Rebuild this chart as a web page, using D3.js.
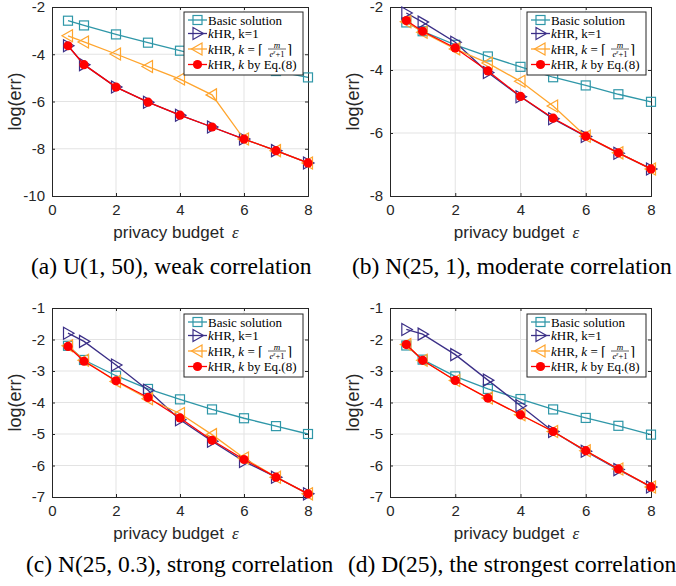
<!DOCTYPE html>
<html>
<head>
<meta charset="utf-8">
<script src="https://cdn.jsdelivr.net/npm/d3@7"></script>
<style>
  body { margin: 0; background: #fff; }
  svg { display: block; }
</style>
</head>
<body>
<svg id="screen" width="676" height="586"></svg>
<script>
// x values shared by every panel
var epsilons = [0.5, 1, 2, 3, 4, 5, 6, 7, 8];
var xTicks = [0, 2, 4, 6, 8];

// (a) U(1,50)
var basicA = [-2.58, -2.78, -3.16, -3.51, -3.85, -4.2, -4.47, -4.71, -4.98];
var k1A    = [-3.64, -4.44, -5.39, -6.03, -6.58, -7.08, -7.59, -8.08, -8.6];
var kCeilA = [-3.22, -3.48, -3.99, -4.52, -5.05, -5.72, -7.59, -8.08, -8.6];
var kEqA   = [-3.64, -4.44, -5.39, -6.03, -6.58, -7.08, -7.59, -8.08, -8.6];

// (b) N(25,1)
var basicB = [-2.49, -2.77, -3.2, -3.57, -3.9, -4.23, -4.49, -4.77, -5.01];
var k1B    = [-2.19, -2.48, -3.12, -4.08, -4.85, -5.55, -6.11, -6.64, -7.14];
var kCeilB = [-2.47, -2.8, -3.33, -3.78, -4.36, -5.14, -6.1, -6.63, -7.14];
var kEqB   = [-2.43, -2.77, -3.3, -4.03, -4.84, -5.53, -6.1, -6.63, -7.14];

// (c) N(25,0.3)
var basicC = [-2.2, -2.65, -3.15, -3.57, -3.9, -4.22, -4.5, -4.75, -5.0];
var k1C    = [-1.8, -2.06, -2.81, -3.61, -4.55, -5.23, -5.87, -6.37, -6.9];
var kCeilC = [-2.2, -2.66, -3.33, -3.88, -4.35, -5.02, -5.76, -6.37, -6.9];
var kEqC   = [-2.22, -2.69, -3.31, -3.84, -4.49, -5.2, -5.81, -6.37, -6.9];

// (d) D(25)
var basicD = [-2.19, -2.64, -3.17, -3.57, -3.89, -4.22, -4.49, -4.74, -5.02];
var k1D    = [-1.68, -1.83, -2.48, -3.29, -4.1, -4.92, -5.55, -6.13, -6.68];
var kCeilD = [-2.16, -2.66, -3.3, -3.86, -4.39, -4.92, -5.53, -6.11, -6.68];
var kEqD   = [-2.16, -2.66, -3.3, -3.86, -4.39, -4.92, -5.53, -6.11, -6.68];

var yTicksA = [-10, -8, -6, -4, -2];
var yTicksB = [-8, -6, -4, -2];
var yTicksCD = [-7, -6, -5, -4, -3, -2, -1];

var captions = [
  "(a) U(1, 50), weak correlation",
  "(b) N(25, 1), moderate correlation",
  "(c) N(25, 0.3), strong correlation",
  "(d) D(25), the strongest correlation"
];

var colors = { basic: "#2f97a8", k1: "#3b2f87", kceil: "#ffa52e", keq: "#ff0000" };

var panels = [
  { left: 52, top: 7, w: 256, h: 189, yDom: [-10, -2], yTicks: yTicksA,
    data: [basicA, k1A, kCeilA, kEqA], caption: captions[0], capX: 31, capY: 274, leg: [184, 12] },
  { left: 390, top: 7, w: 261, h: 189, yDom: [-8, -2], yTicks: yTicksB,
    data: [basicB, k1B, kCeilB, kEqB], caption: captions[1], capX: 352, capY: 274, leg: [527, 12] },
  { left: 52, top: 308, w: 256, h: 189, yDom: [-7, -1], yTicks: yTicksCD,
    data: [basicC, k1C, kCeilC, kEqC], caption: captions[2], capX: 26, capY: 572, leg: [184, 314] },
  { left: 390, top: 308, w: 261, h: 189, yDom: [-7, -1], yTicks: yTicksCD,
    data: [basicD, k1D, kCeilD, kEqD], caption: captions[3], capX: 348, capY: 572, leg: [527, 314] }
];

var svg = d3.select("#screen");
var keys = ["basic", "k1", "kceil", "keq"];
var serif = "'Liberation Serif', serif";
var sans = "'Liberation Sans', Arial, sans-serif";

function marker(g, key, x, y) {
    if (key == "basic") {
	g.append("rect").attr("x", x - 4.5).attr("y", y - 4.5).attr("width", 9).attr("height", 9)
	    .attr("fill", "none").attr("stroke", colors.basic).attr("stroke-width", 1.2);
    } else if (key == "k1") {
	g.append("path").attr("d", "M" + (x - 4.5) + "," + (y - 6) + "L" + (x + 6) + "," + y + "L" + (x - 4.5) + "," + (y + 6) + "Z")
	    .attr("fill", "none").attr("stroke", colors.k1).attr("stroke-width", 1.2);
    } else if (key == "kceil") {
	g.append("path").attr("d", "M" + (x + 4.5) + "," + (y - 6) + "L" + (x - 6) + "," + y + "L" + (x + 4.5) + "," + (y + 6) + "Z")
	    .attr("fill", "none").attr("stroke", colors.kceil).attr("stroke-width", 1.2);
    } else {
	g.append("circle").attr("cx", x).attr("cy", y).attr("r", 4.6).attr("fill", colors.keq);
    }
}

panels.forEach(function(p) {
    var x = d3.scaleLinear().domain([0, 8]).range([p.left, p.left + p.w]);
    var y = d3.scaleLinear().domain(p.yDom).range([p.top + p.h, p.top]);
    var g = svg.append("g");

    // grid
    g.selectAll(".gx").data(xTicks.slice(1, -1)).enter().append("line")
	.attr("x1", function(d){ return x(d); }).attr("x2", function(d){ return x(d); })
	.attr("y1", p.top).attr("y2", p.top + p.h)
	.attr("stroke", "#e3e3e3").attr("stroke-width", 1);
    g.selectAll(".gy").data(p.yTicks.slice(1, -1)).enter().append("line")
	.attr("x1", p.left).attr("x2", p.left + p.w)
	.attr("y1", function(d){ return y(d); }).attr("y2", function(d){ return y(d); })
	.attr("stroke", "#e3e3e3").attr("stroke-width", 1);

    // axes, ticks pointing inward on all four sides
    var ax = g.append("g").attr("transform", "translate(0," + (p.top + p.h) + ")")
	.call(d3.axisBottom(x).tickValues(xTicks).tickSize(-3).tickPadding(8).tickFormat(d3.format("d")));
    var ay = g.append("g").attr("transform", "translate(" + p.left + ",0)")
	.call(d3.axisLeft(y).tickValues(p.yTicks).tickSize(-3).tickPadding(7).tickFormat(function(d){ return d; }));
    g.append("g").attr("transform", "translate(0," + p.top + ")")
	.call(d3.axisTop(x).tickValues(xTicks).tickSize(-3).tickFormat(""));
    g.append("g").attr("transform", "translate(" + (p.left + p.w) + ",0)")
	.call(d3.axisRight(y).tickValues(p.yTicks).tickSize(-3).tickFormat(""));
    g.selectAll(".domain").attr("stroke", "#262626");
    g.selectAll(".tick line").attr("stroke", "#262626");
    [ax, ay].forEach(function(a){
	a.selectAll("text").attr("font-family", sans).attr("font-size", 15).attr("fill", "#262626");
    });
    ax.selectAll("text").attr("dy", "0.71em");

    // series
    var line = d3.line().x(function(d){ return x(d[0]); }).y(function(d){ return y(d[1]); });
    keys.forEach(function(k, i) {
	var pts = epsilons.map(function(e, j){ return [e, p.data[i][j]]; });
	g.append("path").datum(pts).attr("d", line)
	    .attr("fill", "none").attr("stroke", colors[k]).attr("stroke-width", 1.3);
	pts.forEach(function(pt){ marker(g, k, x(pt[0]), y(pt[1])); });
    });

    // axis labels
    var xl = g.append("text").attr("x", p.left + p.w / 2 - 4).attr("y", p.top + p.h + 42)
	.attr("text-anchor", "middle").attr("font-family", sans)
	.attr("font-size", 17).attr("fill", "#262626");
    xl.append("tspan").text("privacy budget");
    xl.append("tspan").attr("font-family", serif).attr("font-style", "italic").attr("dx", 8).text("ε");
    g.append("text").attr("transform", "translate(" + (p.left - 31) + "," + (p.top + p.h / 2) + ") rotate(-90)")
	.attr("text-anchor", "middle").attr("font-family", sans)
	.attr("font-size", 18).attr("fill", "#262626").text("log(err)");

    // legend
    var lx = p.leg[0], ly = p.leg[1];
    var lg = g.append("g");
    lg.append("rect").attr("x", lx).attr("y", ly).attr("width", 119).attr("height", 63)
	.attr("fill", "#fff").attr("stroke", "#262626").attr("stroke-width", 1);
    var rows = [8, 21.5, 37, 52.5];
    keys.forEach(function(k, i) {
	var ry = ly + rows[i];
	lg.append("line").attr("x1", lx + 4).attr("x2", lx + 23).attr("y1", ry).attr("y2", ry)
	    .attr("stroke", colors[k]).attr("stroke-width", 1.3);
	marker(lg, k, lx + 13.5, ry);
	var t = lg.append("text").attr("x", lx + 24).attr("y", ry + 4.5)
	    .attr("font-family", serif).attr("font-size", 13).attr("fill", "#000");
	if (k == "basic") {
	    t.text("Basic solution");
	} else {
	    t.append("tspan").attr("font-style", "italic").text("k");
	    t.append("tspan").text("HR, ");
	    if (k == "k1") {
		t.append("tspan").text("k=1");
	    } else if (k == "kceil") {
		t.append("tspan").attr("font-style", "italic").text("k");
		t.append("tspan").text(" = \u2308");
		var fx = lx + 93;
		lg.append("text").attr("x", fx).attr("y", ry - 1.5).attr("text-anchor", "middle")
		    .attr("font-family", serif).attr("font-style", "italic")
		    .attr("font-size", 9).text("m");
		lg.append("line").attr("x1", fx - 9).attr("x2", fx + 9).attr("y1", ry).attr("y2", ry)
		    .attr("stroke", "#000").attr("stroke-width", 0.6);
		var den = lg.append("text").attr("x", fx).attr("y", ry + 7.5).attr("text-anchor", "middle")
		    .attr("font-family", serif).attr("font-size", 8.5);
		den.append("tspan").attr("font-style", "italic").text("e");
		den.append("tspan").attr("font-style", "italic").attr("font-size", 5.5).attr("dy", -3).text("ε");
		den.append("tspan").attr("dy", 3).text("+1");
		lg.append("text").attr("x", fx + 10).attr("y", ry + 4.5)
		    .attr("font-family", serif).attr("font-size", 13).text("\u2309");
	    } else {
		t.append("tspan").attr("font-style", "italic").text("k");
		t.append("tspan").text(" by Eq.(8)");
	    }
	}
    });

    // caption
    svg.append("text").attr("x", p.capX).attr("y", p.capY)
	.attr("font-family", serif).attr("font-size", 23.5).attr("fill", "#000")
	.text(p.caption);
});
</script>
</body>
</html>
